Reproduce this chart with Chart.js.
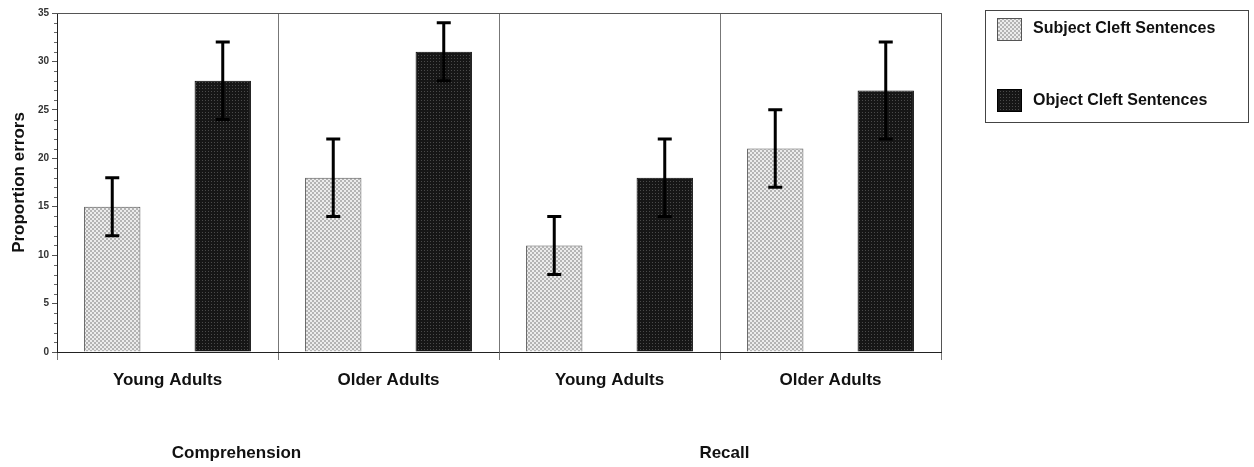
<!DOCTYPE html>
<html>
<head>
<meta charset="utf-8">
<script src="https://cdn.jsdelivr.net/npm/chart.js@4"></script>
<style>
  body { margin: 0; background: #fff; }
  #wrap { width: 1254px; height: 467px; }
</style>
</head>
<body>
<div id="wrap"><canvas id="errChart" width="1254" height="467"></canvas></div>
<script>
const categories = ["Young Adults", "Older Adults", "Young Adults", "Older Adults"];
const seriesNames = ["Subject Cleft Sentences", "Object Cleft Sentences"];
const subjectValues = [15, 18, 11, 21];
const objectValues = [28, 31, 18, 27];
const subjectLow = [12, 14, 8, 17];
const subjectHigh = [18, 22, 14, 25];
const objectLow = [24, 28, 14, 22];
const objectHigh = [32, 34, 22, 32];
const yTicks = [0, 5, 10, 15, 20, 25, 30, 35];
const groupNames = ["Comprehension", "Recall"];

const makePattern = (kind) => {
    const c = document.createElement("canvas");
    c.width = 4; c.height = 4;
    const g = c.getContext("2d");
    if (kind === "light") {
        g.fillStyle = "#ececec";
        g.fillRect(0, 0, 4, 4);
        g.fillStyle = "#b4b4b4";
        g.fillRect(0, 0, 2, 2);
        g.fillRect(2, 2, 2, 2);
    } else {
        c.width = 3; c.height = 3;
        g.fillStyle = "#161616";
        g.fillRect(0, 0, 3, 3);
        g.fillStyle = "#4a4a4a";
        g.fillRect(1, 1, 1, 1);
    }
    return g.createPattern(c, "repeat");
};

const lightFill = makePattern("light");
const darkFill = makePattern("dark");

const errorBars = {
    id: "errorBars",
    afterDatasetsDraw(chart) {
        const ctx = chart.ctx;
        const y = chart.scales.y;
        const ranges = [[subjectLow, subjectHigh], [objectLow, objectHigh]];
        ctx.save();
        ctx.strokeStyle = "#000";
        ctx.lineWidth = 3;
        ranges.forEach((r, di) => {
            chart.getDatasetMeta(di).data.forEach((bar, i) => {
                const top = y.getPixelForValue(r[1][i]);
                const bot = y.getPixelForValue(r[0][i]);
                ctx.beginPath();
                ctx.moveTo(bar.x, top); ctx.lineTo(bar.x, bot);
                ctx.moveTo(bar.x - 7, top); ctx.lineTo(bar.x + 7, top);
                ctx.moveTo(bar.x - 7, bot); ctx.lineTo(bar.x + 7, bot);
                ctx.stroke();
            });
        });
        ctx.restore();
    }
};

const frameAndLabels = {
    id: "frameAndLabels",
    afterDraw(chart) {
        const ctx = chart.ctx;
        const a = chart.chartArea;
        const y = chart.scales.y;
        ctx.save();
        // box top and right
        ctx.strokeStyle = "#555";
        ctx.lineWidth = 1;
        ctx.beginPath();
        ctx.moveTo(a.left, a.top + 0.5); ctx.lineTo(a.right + 0.5, a.top + 0.5);
        ctx.lineTo(a.right + 0.5, a.bottom);
        ctx.stroke();
        // minor ticks
        ctx.strokeStyle = "#666";
        ctx.beginPath();
        for (let v = 0; v <= 35; v++) {
            if (v % 5 === 0) continue;
            const py = Math.round(y.getPixelForValue(v)) + 0.5;
            ctx.moveTo(a.left - 3, py); ctx.lineTo(a.left, py);
        }
        ctx.stroke();
        // group labels
        ctx.fillStyle = "#111";
        ctx.font = "bold 17px 'Liberation Sans', Arial, sans-serif";
        ctx.textAlign = "center";
        ctx.textBaseline = "middle";
        const w = a.right - a.left;
        ctx.fillText(groupNames[0], a.left + w * 0.203, 453);
        ctx.fillText(groupNames[1], a.left + w * 0.755, 453);
        // legend
        ctx.strokeStyle = "#444";
        ctx.strokeRect(985.5, 10.5, 263, 112);
        const rows = [[lightFill, "#555", 18, 29], [darkFill, "#000", 89, 101]];
        ctx.font = "bold 16px 'Liberation Sans', Arial, sans-serif";
        ctx.textAlign = "left";
        rows.forEach((r, i) => {
            ctx.fillStyle = r[0];
            ctx.fillRect(997, r[2], 24, 22);
            ctx.strokeStyle = r[1];
            ctx.strokeRect(997.5, r[2] + 0.5, 24, 22);
            ctx.fillStyle = "#111";
            ctx.fillText(seriesNames[i], 1033, r[3]);
        });
        ctx.restore();
    }
};

new Chart(document.getElementById("errChart"), {
    type: "bar",
    data: {
        labels: categories,
        datasets: [
            {
                label: seriesNames[0],
                data: subjectValues,
                backgroundColor: lightFill,
                borderColor: "#555",
                borderWidth: 1
            },
            {
                label: seriesNames[1],
                data: objectValues,
                backgroundColor: darkFill,
                borderColor: "#000",
                borderWidth: 1
            }
        ]
    },
    options: {
        responsive: false,
        animation: false,
        categoryPercentage: 1.0,
        barPercentage: 0.51,
        layout: { padding: { top: 13, right: 313, left: 0, bottom: 0 } },
        plugins: {
            legend: { display: false },
            tooltip: { enabled: false }
        },
        scales: {
            x: {
                grid: {
                    offset: true,
                    color: "#777",
                    lineWidth: 1,
                    tickLength: 8,
                    drawOnChartArea: true
                },
                border: { color: "#222", width: 1 },
                ticks: {
                    color: "#111",
                    padding: 10,
                    font: { family: "'Liberation Sans', Arial, sans-serif", size: 17, weight: "bold" }
                },
                afterFit: (s) => { s.height = 115; }
            },
            y: {
                min: 0,
                max: 35,
                afterBuildTicks: (s) => { s.ticks = yTicks.map(v => ({ value: v })); },
                grid: { drawOnChartArea: false, tickLength: 5, color: "#555" },
                border: { color: "#222", width: 1 },
                ticks: {
                    color: "#333",
                    padding: 3,
                    font: { family: "'Liberation Sans', Arial, sans-serif", size: 10, weight: "bold" }
                },
                title: {
                    display: true,
                    text: "Proportion errors",
                    color: "#111",
                    padding: { top: 9, bottom: 0 },
                    font: { family: "'Liberation Sans', Arial, sans-serif", size: 17, weight: "bold" }
                },
                afterFit: (s) => { s.width = 57; }
            }
        }
    },
    plugins: [errorBars, frameAndLabels]
});
</script>
</body>
</html>
